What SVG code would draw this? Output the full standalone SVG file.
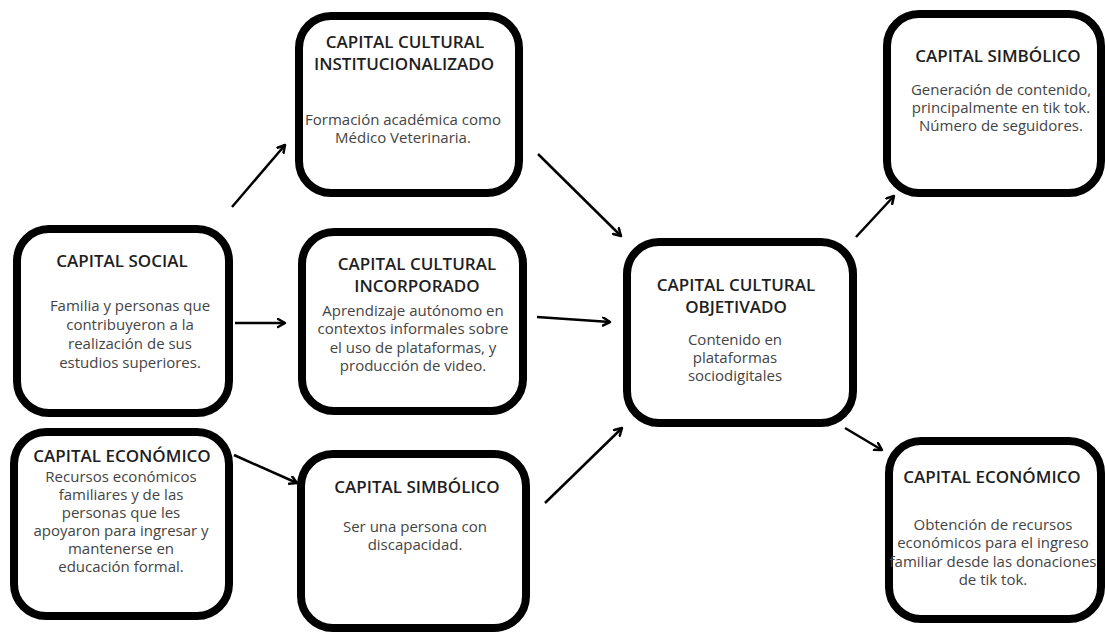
<svg xmlns="http://www.w3.org/2000/svg" width="1105" height="636" viewBox="0 0 1105 636">
<defs>
<style>
.box{fill:#fff;stroke:#000;stroke-width:8}
.t{font-family:"Open Sans","Liberation Sans",sans-serif;font-size:17px;font-weight:600;fill:#1e1e1e;text-anchor:middle}
.b{font-family:"Open Sans","Liberation Sans",sans-serif;font-size:15px;font-weight:400;fill:#444;text-anchor:middle}
.arr{stroke:#000;stroke-width:2.5;fill:none;marker-end:url(#ah)}
</style>
<marker id="ah" markerUnits="userSpaceOnUse" markerWidth="12" markerHeight="12" refX="8" refY="5" orient="auto">
<path d="M1,1 L8,5 L1,9" fill="none" stroke="#000" stroke-width="2.5" stroke-linecap="round" stroke-linejoin="round"/>
</marker>
</defs>
<rect width="1105" height="636" fill="#fff"/>
<g id="connectors">
<line class="arr" x1="232" y1="207" x2="285" y2="145"/>
<line class="arr" x1="235" y1="323" x2="285" y2="323"/>
<line class="arr" x1="234" y1="455" x2="297" y2="483"/>
<line class="arr" x1="538" y1="154" x2="621" y2="236"/>
<line class="arr" x1="537" y1="317" x2="610" y2="322"/>
<line class="arr" x1="545" y1="503" x2="622" y2="428"/>
<line class="arr" x1="856" y1="237" x2="894" y2="196"/>
<line class="arr" x1="845" y1="428" x2="882" y2="450"/>
</g>
<g id="cc-institucionalizado">
<rect class="box" x="299" y="16" width="220" height="177" rx="32"/>
<text class="t" x="405" y="48">CAPITAL CULTURAL</text>
<text class="t" x="404" y="70">INSTITUCIONALIZADO</text>
<text class="b" x="403" y="125">Formación académica como</text>
<text class="b" x="403" y="143">Médico Veterinaria.</text>
</g>
<g id="capital-social">
<rect class="box" x="17" y="229" width="212" height="184" rx="32"/>
<text class="t" x="122" y="267">CAPITAL SOCIAL</text>
<text class="b" x="130" y="311">Familia y personas que</text>
<text class="b" x="130" y="330">contribuyeron a la</text>
<text class="b" x="130" y="349">realización de sus</text>
<text class="b" x="130" y="368">estudios superiores.</text>
</g>
<g id="cc-incorporado">
<rect class="box" x="302" y="232" width="221" height="179" rx="32"/>
<text class="t" x="417" y="270">CAPITAL CULTURAL</text>
<text class="t" x="417" y="292">INCORPORADO</text>
<text class="b" x="413" y="316">Aprendizaje autónomo en</text>
<text class="b" x="413" y="334">contextos informales sobre</text>
<text class="b" x="413" y="353">el uso de plataformas, y</text>
<text class="b" x="413" y="371">producción de video.</text>
</g>
<g id="cc-objetivado">
<rect class="box" x="627" y="242" width="226" height="181" rx="32"/>
<text class="t" x="736" y="291">CAPITAL CULTURAL</text>
<text class="t" x="736" y="313">OBJETIVADO</text>
<text class="b" x="735" y="345">Contenido en</text>
<text class="b" x="735" y="363">plataformas</text>
<text class="b" x="735" y="381">sociodigitales</text>
</g>
<g id="simbolico-top">
<rect class="box" x="887" y="14" width="214" height="179" rx="32"/>
<text class="t" x="998" y="62">CAPITAL SIMBÓLICO</text>
<text class="b" x="1001" y="95">Generación de contenido,</text>
<text class="b" x="1001" y="113">principalmente en tik tok.</text>
<text class="b" x="1001" y="131">Número de seguidores.</text>
</g>
<g id="economico-left">
<rect class="box" x="14" y="432" width="215" height="184" rx="32"/>
<text class="t" x="122" y="462">CAPITAL ECONÓMICO</text>
<text class="b" x="121" y="482">Recursos económicos</text>
<text class="b" x="121" y="500">familiares y de las</text>
<text class="b" x="121" y="518">personas que les</text>
<text class="b" x="121" y="536">apoyaron para ingresar y</text>
<text class="b" x="121" y="554">mantenerse en</text>
<text class="b" x="121" y="572">educación formal.</text>
</g>
<g id="simbolico-mid">
<rect class="box" x="301" y="454" width="225" height="174" rx="32"/>
<text class="t" x="417" y="493">CAPITAL SIMBÓLICO</text>
<text class="b" x="415" y="532">Ser una persona con</text>
<text class="b" x="415" y="550">discapacidad.</text>
</g>
<g id="economico-right">
<rect class="box" x="889" y="441" width="212" height="178" rx="32"/>
<text class="t" x="992" y="483">CAPITAL ECONÓMICO</text>
<text class="b" x="993" y="530">Obtención de recursos</text>
<text class="b" x="993" y="548">económicos para el ingreso</text>
<text class="b" x="993" y="567">familiar desde las donaciones</text>
<text class="b" x="993" y="585">de tik tok.</text>
</g>
</svg>
